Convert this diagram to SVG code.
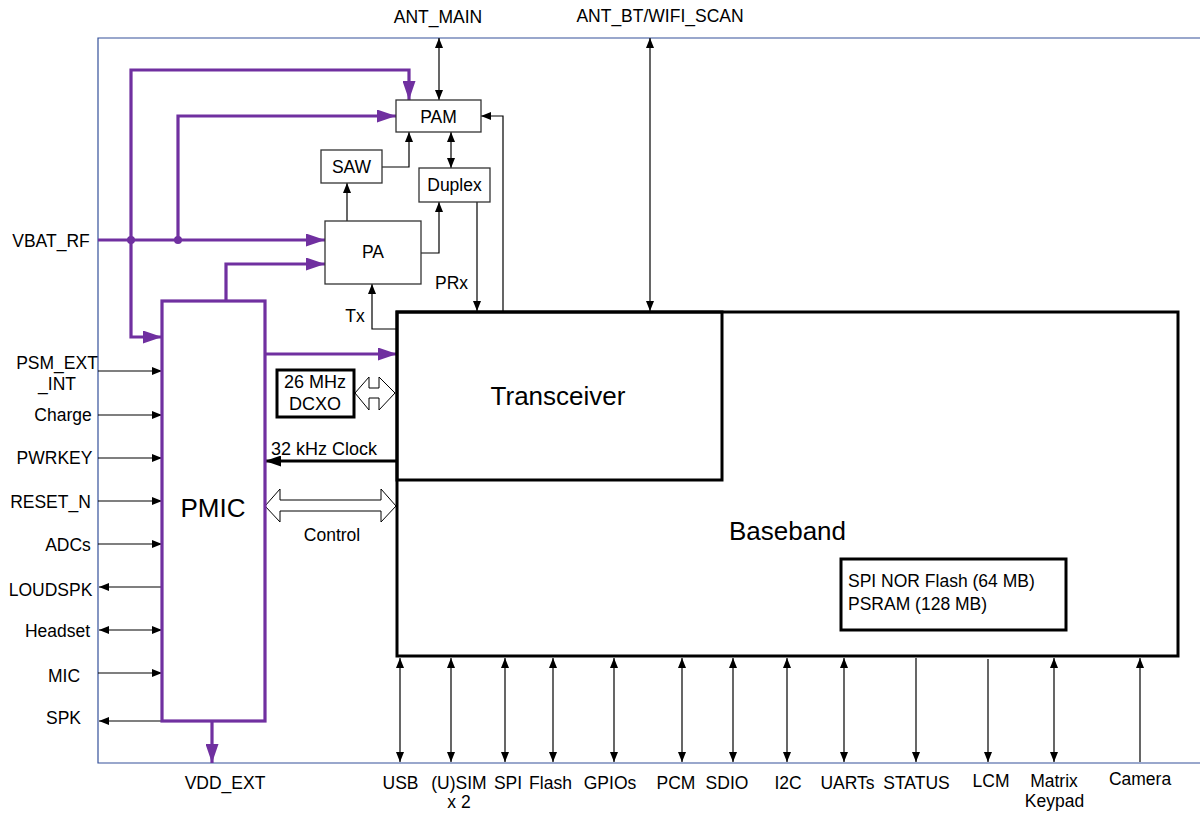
<svg xmlns="http://www.w3.org/2000/svg" width="1200" height="814" viewBox="0 0 1200 814">
<style>
text{font-family:"Liberation Sans",Arial,sans-serif;font-size:17.5px;fill:#000}
.m{text-anchor:middle}
.big{font-size:26px}
.box{fill:#fff;stroke:#333;stroke-width:1.3}
.thick{fill:none;stroke:#000;stroke-width:3}
.pu{fill:none;stroke:#7030A0;stroke-width:3.2}
.ln{fill:none;stroke:#000;stroke-width:1.2}
.hol{fill:#fff;stroke:#000;stroke-width:1}
</style>
<defs>
<marker id="ab" markerUnits="userSpaceOnUse" markerWidth="10" markerHeight="8" refX="10" refY="4" orient="auto-start-reverse"><path d="M0,0 L10,4 L0,8 z" fill="#000"/></marker>
<marker id="ap" markerUnits="userSpaceOnUse" markerWidth="19" markerHeight="13" refX="19" refY="6.5" orient="auto-start-reverse"><path d="M0,0 L19,6.5 L0,13 z" fill="#7030A0"/></marker>
<marker id="ak" markerUnits="userSpaceOnUse" markerWidth="16" markerHeight="11" refX="16" refY="5.5" orient="auto"><path d="M0,0 L16,5.5 L0,11 z" fill="#000"/></marker>
</defs>

<g id="frame"><path d="M1200,38 H98 V763 H1200" fill="none" stroke="#34509a" stroke-width="1.2"/></g>

<g id="connectors">
<path class="pu" d="M98,240 H325" marker-end="url(#ap)"/>
<path class="pu" d="M131,240 V70 H409 V100" marker-end="url(#ap)"/>
<path class="pu" d="M131,240 V337 H162" marker-end="url(#ap)"/>
<path class="pu" d="M178,240 V116 H396" marker-end="url(#ap)"/>
<path class="pu" d="M226,301 V264 H325" marker-end="url(#ap)"/>
<path class="pu" d="M265,354 H397" marker-end="url(#ap)"/>
<path class="pu" d="M212,721 V763" marker-end="url(#ap)"/>
<circle cx="131" cy="240" r="4" fill="#7030A0"/>
<circle cx="178" cy="240" r="4" fill="#7030A0"/>
<path class="ln" d="M439,38 V100" marker-start="url(#ab)" marker-end="url(#ab)"/>
<path class="ln" d="M650,38 V311" marker-start="url(#ab)" marker-end="url(#ab)"/>
<path class="ln" d="M382,167 H409 V132" marker-end="url(#ab)"/>
<path class="ln" d="M347,221 V183" marker-end="url(#ab)"/>
<path class="ln" d="M451,132 V168" marker-start="url(#ab)" marker-end="url(#ab)"/>
<path class="ln" d="M421,253 H439 V202" marker-end="url(#ab)"/>
<path class="ln" d="M477,202 V311" marker-end="url(#ab)"/>
<path class="ln" d="M503,311 V116 H481" marker-end="url(#ab)"/>
<path class="ln" d="M396,329 H372 V284" marker-end="url(#ab)"/>
<path class="ln" d="M98,371 H162" marker-end="url(#ab)"/>
<path class="ln" d="M98,415 H162" marker-end="url(#ab)"/>
<path class="ln" d="M98,458 H162" marker-end="url(#ab)"/>
<path class="ln" d="M98,501 H162" marker-end="url(#ab)"/>
<path class="ln" d="M98,544 H162" marker-end="url(#ab)"/>
<path class="ln" d="M162,587 H99" marker-end="url(#ab)"/>
<path class="ln" d="M99,630 H162" marker-start="url(#ab)" marker-end="url(#ab)"/>
<path class="ln" d="M98,673 H162" marker-end="url(#ab)"/>
<path class="ln" d="M162,721 H99" marker-end="url(#ab)"/>
<path d="M397,461 H265" fill="none" stroke="#000" stroke-width="3.2" marker-end="url(#ak)"/>
<polygon class="hol" points="355,393 369,377 369,388 379,388 379,377 395,393 379,410 379,398 369,398 369,410"/>
<polygon class="hol" points="265,506 280,489 280,500 381,500 381,489 396,506 381,522 381,511 280,511 280,522"/>
<path class="ln" d="M400,658 V762" marker-start="url(#ab)" marker-end="url(#ab)"/>
<path class="ln" d="M451,658 V762" marker-start="url(#ab)" marker-end="url(#ab)"/>
<path class="ln" d="M505,658 V762" marker-start="url(#ab)" marker-end="url(#ab)"/>
<path class="ln" d="M553,658 V762" marker-start="url(#ab)" marker-end="url(#ab)"/>
<path class="ln" d="M614,658 V762" marker-start="url(#ab)" marker-end="url(#ab)"/>
<path class="ln" d="M682,658 V762" marker-start="url(#ab)" marker-end="url(#ab)"/>
<path class="ln" d="M733,658 V762" marker-start="url(#ab)" marker-end="url(#ab)"/>
<path class="ln" d="M787,658 V762" marker-start="url(#ab)" marker-end="url(#ab)"/>
<path class="ln" d="M844,658 V762" marker-start="url(#ab)" marker-end="url(#ab)"/>
<path class="ln" d="M916,658 V762" marker-end="url(#ab)"/>
<path class="ln" d="M988,659 V762" marker-end="url(#ab)"/>
<path class="ln" d="M1054,658 V762" marker-start="url(#ab)" marker-end="url(#ab)"/>
<path class="ln" d="M1140,762 V658" marker-end="url(#ab)"/>
</g>

<g id="pam"><rect class="box" x="396" y="100" width="85" height="32"/><text class="m" x="438.5" y="122.5">PAM</text></g>
<g id="saw"><rect class="box" x="321" y="150" width="61" height="33"/><text class="m" x="351.5" y="173">SAW</text></g>
<g id="duplex"><rect class="box" x="419" y="168" width="71" height="34"/><text class="m" x="454.5" y="190.5">Duplex</text></g>
<g id="pa"><rect class="box" x="325" y="221" width="96" height="63"/><text class="m" x="373" y="257.5">PA</text></g>
<g id="pmic"><rect x="162" y="301" width="103" height="420" fill="#fff" stroke="#7030A0" stroke-width="3.2"/><text class="m big" x="213" y="516.5">PMIC</text></g>
<g id="baseband"><rect class="thick" x="397" y="312" width="781" height="344"/><text class="m big" x="787.5" y="540">Baseband</text></g>
<g id="transceiver"><rect class="thick" x="397" y="312" width="325" height="168"/><text class="m big" x="558" y="405">Transceiver</text></g>
<g id="dcxo"><rect class="thick" x="277" y="370" width="77" height="47" fill="#fff"/><text class="m" x="315" y="388" style="font-size:18px">26 MHz</text><text class="m" x="315" y="410" style="font-size:18px">DCXO</text></g>
<g id="memory"><rect class="thick" x="841" y="559" width="225" height="71"/><text x="848" y="587">SPI NOR Flash (64 MB)</text><text x="848" y="610">PSRAM (128 MB)</text></g>

<g id="labels">
<text class="m" x="438" y="22.5">ANT_MAIN</text>
<text class="m" x="660" y="22">ANT_BT/WIFI_SCAN</text>
<text class="m" x="51" y="246.5">VBAT_RF</text>
<text x="355" y="321.5" class="m">Tx</text>
<text x="435" y="289">PRx</text>
<text x="271" y="455" style="font-size:18px">32 kHz Clock</text>
<text class="m" x="332" y="541">Control</text>
<text class="m" x="57" y="368.5">PSM_EXT</text>
<text class="m" x="57" y="390">_INT</text>
<text class="m" x="63" y="420.5">Charge</text>
<text class="m" x="54.5" y="464">PWRKEY</text>
<text class="m" x="50.5" y="508">RESET_N</text>
<text class="m" x="68" y="550.5">ADCs</text>
<text class="m" x="50.5" y="596">LOUDSPK</text>
<text class="m" x="57.5" y="636.5">Headset</text>
<text class="m" x="64" y="681.5">MIC</text>
<text class="m" x="63.5" y="724">SPK</text>
<text class="m" x="225" y="788.5">VDD_EXT</text>
<text class="m" x="400.5" y="789">USB</text>
<text class="m" x="459" y="789">(U)SIM</text>
<text class="m" x="459" y="808">x 2</text>
<text class="m" x="508" y="789">SPI</text>
<text class="m" x="550.5" y="789">Flash</text>
<text class="m" x="610" y="789">GPIOs</text>
<text class="m" x="676" y="789">PCM</text>
<text class="m" x="727" y="789">SDIO</text>
<text class="m" x="788" y="789">I2C</text>
<text class="m" x="847.5" y="789">UARTs</text>
<text class="m" x="916.5" y="789">STATUS</text>
<text class="m" x="991" y="787">LCM</text>
<text class="m" x="1054" y="786.5">Matrix</text>
<text class="m" x="1054.5" y="806.5">Keypad</text>
<text class="m" x="1140" y="785">Camera</text>
</g>
</svg>
